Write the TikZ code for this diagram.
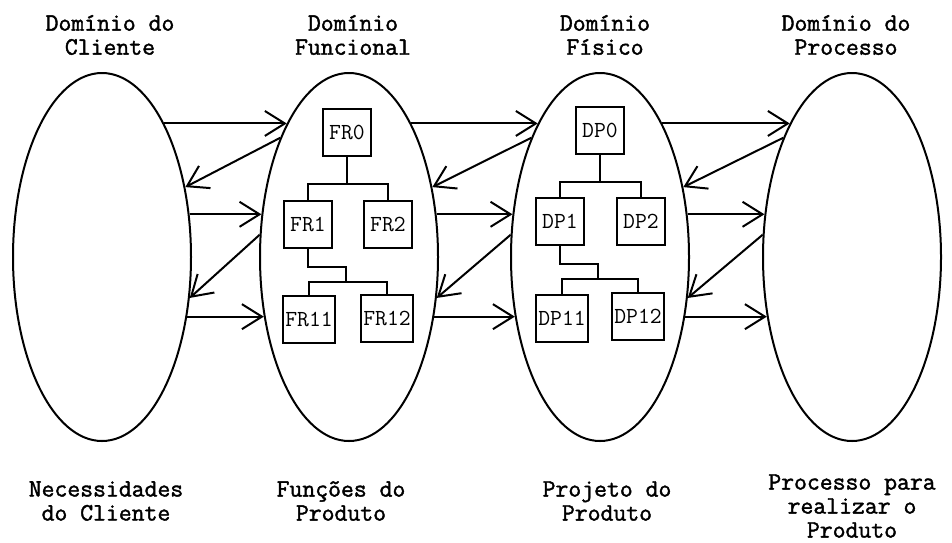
\documentclass[tikz,border=0pt]{standalone}
\usepackage{fontspec}
\newfontfamily\headfont{Latin Modern Mono}[FakeBold=1.6]
\usetikzlibrary{shapes.geometric,arrows.meta}

\tikzset{
  domell/.style={draw, ellipse, line width=2pt, minimum width=178pt, minimum height=368pt},
  req/.style={draw, line width=2pt, inner sep=2pt, minimum width=48pt, minimum height=47pt,
    font=\ttfamily\fontsize{23}{24}\selectfont},
  domtext/.style={align=center, font=\headfont\bfseries\fontsize{25}{24}\selectfont},
  flow/.style={line width=2pt, -{Straight Barb[length=20pt,width=25pt]}},
}

\begin{document}
\begin{tikzpicture}[x=1pt, y=-1pt, line width=2pt]
    \useasboundingbox (0,0) rectangle (952,542);

    \node[domell] (cli) at (102,257) {};
    \node[domell] (fun) at (349,257) {};
    \node[domell] (fis) at (600,257) {};
    \node[domell] (pro) at (852,257) {};

    \node[domtext] (tcli) at (110,35) {Domínio do\\Cliente};
    \node[domtext] (tfun) at (353,35) {Domínio\\Funcional};
    \node[domtext] (tfis) at (605,35) {Domínio\\Físico};
    \node[domtext] (tpro) at (846,35) {Domínio do\\Processo};

    \node[domtext] (bcli) at (106,501) {Necessidades\\do Cliente};
    \node[domtext] (bfun) at (341,501) {Funções do\\Produto};
    \node[domtext] (bfis) at (607,501) {Projeto do\\Produto};
    \node[domtext] (bpro) at (852,506) {Processo para\\realizar o\\Produto};

    \node[req] (fr0) at (347,132) {FR0};
    \node[req] (fr1) at (308,224) {FR1};
    \node[req] (fr2) at (388,224) {FR2};
    \node[req] (fr11) at (309,319) {FR11};
    \node[req] (fr12) at (387,318) {FR12};

    \draw (fr0.south) -- ++(0,27) coordinate (fr0j);
    \draw (fr1.north) |- (fr0j) -| (fr2.north);
    \draw (fr1.south) |- ++(38,18) -- ++(0,15) coordinate (fr1j);
    \draw (fr11.north) |- (fr1j) -| (fr12.north);

    \node[req] (dp0) at (600,130) {DP0};
    \node[req] (dp1) at (560,221) {DP1};
    \node[req] (dp2) at (641,221) {DP2};
    \node[req] (dp11) at (562,318) {DP11};
    \node[req] (dp12) at (638,316) {DP12};

    \draw (dp0.south) -- ++(0,27) coordinate (dp0j);
    \draw (dp1.north) |- (dp0j) -| (dp2.north);
    \draw (dp1.south) |- ++(38,18) -- ++(0,15) coordinate (dp1j);
    \draw (dp11.north) |- (dp1j) -| (dp12.north);

    \draw[flow] (cli.65) -- (fun.115);
    \draw[flow] (cli.26) -- (fun.154);
    \draw[flow] (cli.-35) -- (fun.215);
    \draw[flow] (fun.120) -- (cli.40);
    \draw[flow] (fun.166) -- (cli.-25);

    \draw[flow] (fun.65) -- (fis.115);
    \draw[flow] (fun.26) -- (fis.154);
    \draw[flow] (fun.-35) -- (fis.215);
    \draw[flow] (fis.120) -- (fun.40);
    \draw[flow] (fis.166) -- (fun.-25);

    \draw[flow] (fis.65) -- (pro.115);
    \draw[flow] (fis.26) -- (pro.154);
    \draw[flow] (fis.-35) -- (pro.215);
    \draw[flow] (pro.120) -- (fis.40);
    \draw[flow] (pro.166) -- (fis.-25);
\end{tikzpicture}
\end{document}
